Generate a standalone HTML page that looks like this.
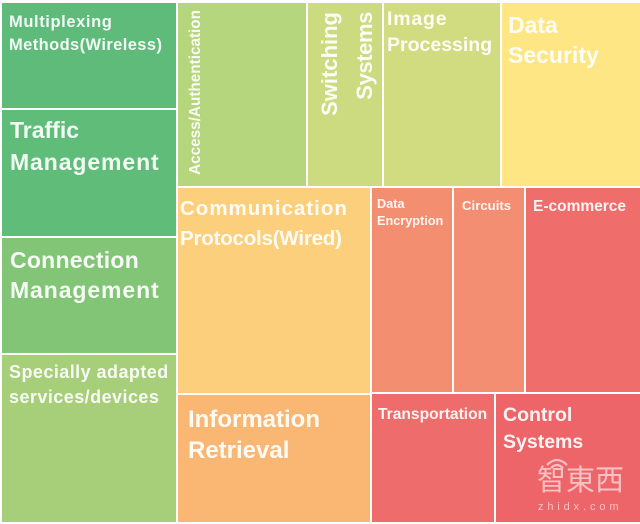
<!DOCTYPE html>
<html>
<head>
<meta charset="utf-8">
<style>
  html, body { margin: 0; padding: 0; background: #ffffff; }
  body { width: 640px; height: 524px; overflow: hidden; }
  svg { display: block; }
  text { font-family: "Liberation Sans", "Noto Sans CJK TC", sans-serif; fill: #ffffff; fill-opacity: 0.92; font-weight: bold; }
</style>
</head>
<body>
<svg width="640" height="524" viewBox="0 0 640 524" xmlns="http://www.w3.org/2000/svg">
  <rect x="0" y="0" width="640" height="524" fill="#ffffff"/>

  <!-- left column -->
  <rect x="2" y="3" width="174" height="105" fill="#5ebb7a"/>
  <rect x="2" y="110" width="174" height="126" fill="#5fbc79"/>
  <rect x="2" y="238" width="174" height="115" fill="#82c576"/>
  <rect x="2" y="355" width="174" height="167" fill="#a7cf7a"/>

  <!-- top row -->
  <rect x="178" y="3" width="128" height="183" fill="#b6d67d"/>
  <rect x="308" y="3" width="74" height="183" fill="#ccdb80"/>
  <rect x="384" y="3" width="116" height="183" fill="#d1dc81"/>
  <rect x="502" y="3" width="138" height="183" fill="#fee684"/>

  <!-- middle -->
  <rect x="178" y="188" width="192" height="205" fill="#fbcf7c"/>
  <rect x="178" y="395" width="192" height="127" fill="#f9b773"/>
  <rect x="372" y="188" width="80" height="204" fill="#f38f70"/>
  <rect x="454" y="188" width="70" height="204" fill="#f38e72"/>
  <rect x="526" y="188" width="114" height="204" fill="#ef6d6a"/>
  <rect x="372" y="394" width="122" height="128" fill="#ee6c6b"/>
  <rect x="496" y="394" width="144" height="128" fill="#ed6569"/>

  <!-- labels -->
  <text x="9" y="27" font-size="16.5" style="letter-spacing:0.6px">Multiplexing</text>
  <text x="9" y="50" font-size="16.5" style="letter-spacing:0.4px">Methods(Wireless)</text>

  <text x="10" y="138" font-size="23">Traffic</text>
  <text x="10" y="170" font-size="23" style="letter-spacing:0.9px">Management</text>

  <text x="10" y="268" font-size="23" style="letter-spacing:0.25px">Connection</text>
  <text x="10" y="298" font-size="23" style="letter-spacing:0.9px">Management</text>

  <text x="9" y="378" font-size="18" style="letter-spacing:0.45px">Specially adapted</text>
  <text x="9" y="403" font-size="18" style="letter-spacing:0.45px">services/devices</text>

  <text transform="translate(200,10) rotate(-90)" text-anchor="end" font-size="15.3">Access/Authentication</text>

  <text transform="translate(337,12) rotate(-90)" text-anchor="end" font-size="22">Switching</text>
  <text transform="translate(372,12) rotate(-90)" text-anchor="end" font-size="22" style="letter-spacing:-0.4px">Systems</text>

  <text x="387" y="25" font-size="19.5" style="letter-spacing:0.8px">Image</text>
  <text x="387" y="51" font-size="19.5">Processing</text>

  <text x="508" y="33" font-size="23">Data</text>
  <text x="508" y="63" font-size="23">Security</text>

  <text x="180" y="215" font-size="20.5" style="letter-spacing:1px">Communication</text>
  <text x="180" y="245" font-size="20.5" style="letter-spacing:-0.2px">Protocols(Wired)</text>

  <text x="188" y="427" font-size="24">Information</text>
  <text x="188" y="458" font-size="24">Retrieval</text>

  <text x="377" y="208" font-size="12.7">Data</text>
  <text x="377" y="225" font-size="12.7">Encryption</text>

  <text x="462" y="210" font-size="13.2">Circuits</text>

  <text x="533" y="211" font-size="15.5">E-commerce</text>

  <text x="378" y="419" font-size="15.6">Transportation</text>

  <text x="503" y="421" font-size="19.5">Control</text>
  <text x="503" y="448" font-size="19.5">Systems</text>

  <!-- watermark -->
  <g opacity="0.6">
    <path d="M547 465 Q557 455 567 465" fill="none" stroke="#ffffff" stroke-width="2.2"/>
    <path d="M551 468 Q557 462 563 468" fill="none" stroke="#ffffff" stroke-width="2.2"/>
  </g>
  <text x="537" y="490" font-size="29" style="fill-opacity:0.6; font-weight:normal; font-family:'Noto Sans CJK TC','Noto Sans CJK SC',sans-serif;">智東西</text>
  <text x="538" y="510" font-size="11" textLength="84" style="fill-opacity:0.6; font-weight:normal; letter-spacing:3.5px">zhidx.com</text>
</svg>
</body>
</html>
